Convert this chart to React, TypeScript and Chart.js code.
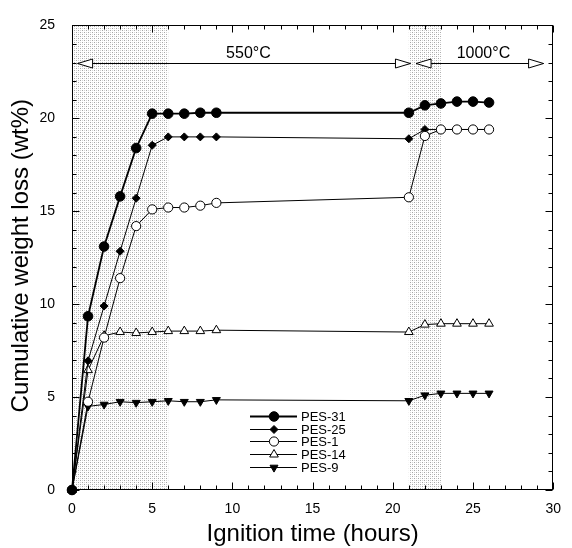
import React, { useEffect, useRef } from "react";
import { Chart, registerables } from "chart.js";

Chart.register(...registerables);

const FONT = '"Liberation Sans", Arial, Helvetica, sans-serif';

// Ignition time (hours) of each weighing
const hours = [0, 1, 2, 3, 4, 5, 6, 7, 8, 9, 21, 22, 23, 24, 25, 26];

// Cumulative weight loss (wt%) per sample
const pes31 = [0, 9.35, 13.1, 15.8, 18.4, 20.25, 20.25, 20.25, 20.3, 20.3, 20.3, 20.7, 20.8, 20.9, 20.9, 20.85];
const pes25 = [0, 6.95, 9.9, 12.85, 15.7, 18.55, 19.0, 19.0, 19.0, 19.0, 18.9, 19.4, 19.4, 19.4, 19.4, 19.4];
const pes1 = [0, 4.75, 8.2, 11.4, 14.2, 15.1, 15.2, 15.2, 15.3, 15.45, 15.75, 19.05, 19.4, 19.4, 19.4, 19.4];
const pes14 = [0, 6.45, 8.3, 8.5, 8.45, 8.5, 8.55, 8.55, 8.55, 8.6, 8.5, 8.9, 8.95, 8.95, 8.95, 8.95];
const pes9 = [0, 4.5, 4.6, 4.75, 4.7, 4.75, 4.8, 4.75, 4.75, 4.85, 4.8, 5.1, 5.2, 5.2, 5.2, 5.2];

const seriesNames = ["PES-31", "PES-25", "PES-1", "PES-14", "PES-9"];
const seriesValues = [pes31, pes25, pes1, pes14, pes9];

// Axis ranges and tick steps
const xRange = [0, 30];
const yRange = [0, 25];
const majorStep = 5;
const minorStep = 1;

// Heating stages: shaded ramp periods and the temperature arrows
const heatedSpans = [
  [0, 6],
  [21, 23],
];
const stageNames = ["550°C", "1000°C"];
const stageFrom = [0.35, 21.45];
const stageTo = [21.1, 29.4];
const stageLabelAt = [11, 25.65];
const stageLevel = 23;

type Marker = "circle" | "diamond" | "triangle" | "triangleDown";

const markerStyles: { shape: Marker; fill: string; r: number; line: number }[] = [
  { shape: "circle", fill: "#000", r: 4.8, line: 1.8 },
  { shape: "diamond", fill: "#000", r: 4, line: 1 },
  { shape: "circle", fill: "#fff", r: 4.6, line: 1 },
  { shape: "triangle", fill: "#fff", r: 5, line: 1 },
  { shape: "triangleDown", fill: "#000", r: 4.6, line: 1 },
];

function drawMarker(ctx: CanvasRenderingContext2D, shape: Marker, cx: number, cy: number, r: number, fill: string) {
  ctx.beginPath();
  if (shape === "circle") {
    ctx.arc(cx, cy, r, 0, Math.PI * 2);
  } else if (shape === "diamond") {
    ctx.moveTo(cx - r, cy);
    ctx.lineTo(cx, cy - r);
    ctx.lineTo(cx + r, cy);
    ctx.lineTo(cx, cy + r);
    ctx.closePath();
  } else {
    const dir = shape === "triangle" ? 1 : -1;
    const s = Math.sin((2 * Math.PI) / 3) * r;
    const c = Math.cos((2 * Math.PI) / 3) * r;
    ctx.moveTo(cx, cy - dir * r);
    ctx.lineTo(cx + s, cy - dir * c);
    ctx.lineTo(cx - s, cy - dir * c);
    ctx.closePath();
  }
  ctx.fillStyle = fill;
  ctx.fill();
  ctx.lineWidth = 1;
  ctx.strokeStyle = "#000";
  ctx.stroke();
}

function stipple(ctx: CanvasRenderingContext2D): CanvasPattern | string {
  const tile = document.createElement("canvas");
  tile.width = 4;
  tile.height = 4;
  const t = tile.getContext("2d");
  if (!t) return "#eee";
  t.fillStyle = "#a6a6a6";
  t.fillRect(0, 0, 1, 1);
  t.fillRect(2, 2, 1, 1);
  t.fillStyle = "#d4d4d4";
  t.fillRect(2, 0, 1, 1);
  t.fillRect(0, 2, 1, 1);
  return ctx.createPattern(tile, "repeat") || "#eee";
}

function arrowHead(ctx: CanvasRenderingContext2D, tipX: number, yy: number, dir: number) {
  const len = 15;
  const half = 4.5;
  ctx.beginPath();
  ctx.moveTo(tipX, yy);
  ctx.lineTo(tipX - dir * len, yy - half);
  ctx.lineTo(tipX - dir * len, yy + half);
  ctx.closePath();
  ctx.fillStyle = "#fff";
  ctx.fill();
  ctx.stroke();
}

const decorPlugin = {
  id: "decor",
  beforeDatasetsDraw(chart: any) {
    const { ctx, chartArea: a, scales } = chart;
    const x = scales.x;
    const y = scales.y;
    ctx.save();

    // shaded ramp periods
    ctx.fillStyle = stipple(ctx);
    heatedSpans.forEach(([s, e]) => {
      const l = x.getPixelForValue(s);
      const r = x.getPixelForValue(e);
      ctx.fillRect(l, a.top, r - l, a.bottom - a.top);
    });

    // frame
    ctx.strokeStyle = "#000";
    ctx.lineWidth = 1;
    const L = Math.round(a.left) + 0.5;
    const R = Math.round(a.right) - 0.5;
    const T = Math.round(a.top) + 0.5;
    const B = Math.round(a.bottom) - 0.5;
    ctx.strokeRect(L, T, R - L, B - T);

    // inward ticks on all four sides
    ctx.beginPath();
    for (let v = xRange[0]; v <= xRange[1]; v += minorStep) {
      const px = Math.round(x.getPixelForValue(v)) + 0.5;
      const len = v % majorStep === 0 ? 7 : 4;
      ctx.moveTo(px, B);
      ctx.lineTo(px, B - len);
      ctx.moveTo(px, T);
      ctx.lineTo(px, T + len);
    }
    for (let v = yRange[0]; v <= yRange[1]; v += minorStep) {
      const py = Math.round(y.getPixelForValue(v)) + 0.5;
      const len = v % majorStep === 0 ? 7 : 4;
      ctx.moveTo(L, py);
      ctx.lineTo(L + len, py);
      ctx.moveTo(R, py);
      ctx.lineTo(R - len, py);
    }
    ctx.stroke();

    // temperature stage arrows
    const ay = Math.round(y.getPixelForValue(stageLevel)) + 0.5;
    stageNames.forEach((_, i) => {
      const x1 = x.getPixelForValue(stageFrom[i]);
      const x2 = x.getPixelForValue(stageTo[i]);
      ctx.beginPath();
      ctx.moveTo(x1, ay);
      ctx.lineTo(x2, ay);
      ctx.stroke();
      arrowHead(ctx, x1, ay, -1);
      arrowHead(ctx, x2, ay, 1);
    });

    ctx.restore();
  },
  afterDraw(chart: any) {
    const { ctx, chartArea: a, scales } = chart;
    const x = scales.x;
    const y = scales.y;
    ctx.save();
    ctx.fillStyle = "#000";

    // stage labels
    ctx.font = `16px ${FONT}`;
    ctx.textAlign = "center";
    ctx.textBaseline = "alphabetic";
    const ay = y.getPixelForValue(stageLevel);
    stageNames.forEach((name, i) => {
      ctx.fillText(name, x.getPixelForValue(stageLabelAt[i]), ay - 5);
    });

    // legend
    const lx0 = 250;
    const lx1 = 297;
    const mx = 274;
    const ly0 = 416;
    const rowH = 12.7;
    ctx.font = `13px ${FONT}`;
    ctx.textAlign = "left";
    ctx.textBaseline = "middle";
    seriesNames.forEach((name, i) => {
      const st = markerStyles[i];
      const yy = Math.round(ly0 + i * rowH) + 0.5;
      ctx.beginPath();
      ctx.strokeStyle = "#000";
      ctx.lineWidth = st.line;
      ctx.moveTo(lx0, yy);
      ctx.lineTo(lx1, yy);
      ctx.stroke();
      drawMarker(ctx, st.shape, mx, yy, st.r, st.fill);
      ctx.fillStyle = "#000";
      ctx.fillText(name, lx1 + 4, yy + 0.5);
    });

    // axis titles
    ctx.font = `24px ${FONT}`;
    ctx.textAlign = "center";
    ctx.textBaseline = "alphabetic";
    ctx.fillText("Ignition time (hours)", (a.left + a.right) / 2, 541);
    ctx.translate(28, (a.top + a.bottom) / 2 - 2);
    ctx.rotate(-Math.PI / 2);
    ctx.fillText("Cumulative weight loss (wt%)", 0, 0);

    ctx.restore();
  },
};

export default function App() {
  const canvasRef = useRef<HTMLCanvasElement | null>(null);

  useEffect(() => {
    const canvas = canvasRef.current;
    if (!canvas) return;

    const pointStyles = ["circle", "rectRot", "circle", "triangle", "triangle"];
    const rotations = [0, 0, 0, 0, 180];
    // lower order is painted on top: open circles cover the diamonds underneath
    const orders = [0, 1, 0, 1, 1];

    const datasets = seriesNames.map((name, i) => {
      const st = markerStyles[i];
      return {
        label: name,
        data: hours.map((h, k) => ({ x: h, y: seriesValues[i][k] })),
        borderColor: "#000",
        borderWidth: st.line,
        backgroundColor: st.fill,
        pointStyle: pointStyles[i],
        pointRotation: rotations[i],
        pointRadius: st.r,
        pointBorderWidth: 1,
        pointBorderColor: "#000",
        pointBackgroundColor: st.fill,
        tension: 0,
        fill: false,
        clip: false as any,
        order: orders[i],
      };
    });

    const chart = new Chart(canvas, {
      type: "line",
      data: { datasets },
      plugins: [decorPlugin],
      options: {
        animation: false,
        responsive: false,
        devicePixelRatio: 1,
        layout: { padding: { left: 0, top: 20, right: 9, bottom: 0 } },
        plugins: {
          legend: { display: false },
          tooltip: { enabled: false },
        },
        scales: {
          x: {
            type: "linear",
            min: xRange[0],
            max: xRange[1],
            grid: { display: false, drawTicks: false },
            border: { display: false },
            ticks: {
              stepSize: majorStep,
              color: "#000",
              padding: 11,
              font: { family: FONT, size: 14 },
            },
            afterFit: (s: any) => {
              s.height = 58;
            },
          },
          y: {
            type: "linear",
            min: yRange[0],
            max: yRange[1],
            grid: { display: false, drawTicks: false },
            border: { display: false },
            ticks: {
              stepSize: majorStep,
              color: "#000",
              padding: 17,
              font: { family: FONT, size: 14 },
            },
            afterFit: (s: any) => {
              s.width = 72;
            },
          },
        },
      } as any,
    });

    return () => chart.destroy();
  }, []);

  return (
    <div style={{ position: "absolute", left: 0, top: 0, width: 572, height: 548, background: "#fff" }}>
      <canvas ref={canvasRef} width={572} height={548} />
    </div>
  );
}
